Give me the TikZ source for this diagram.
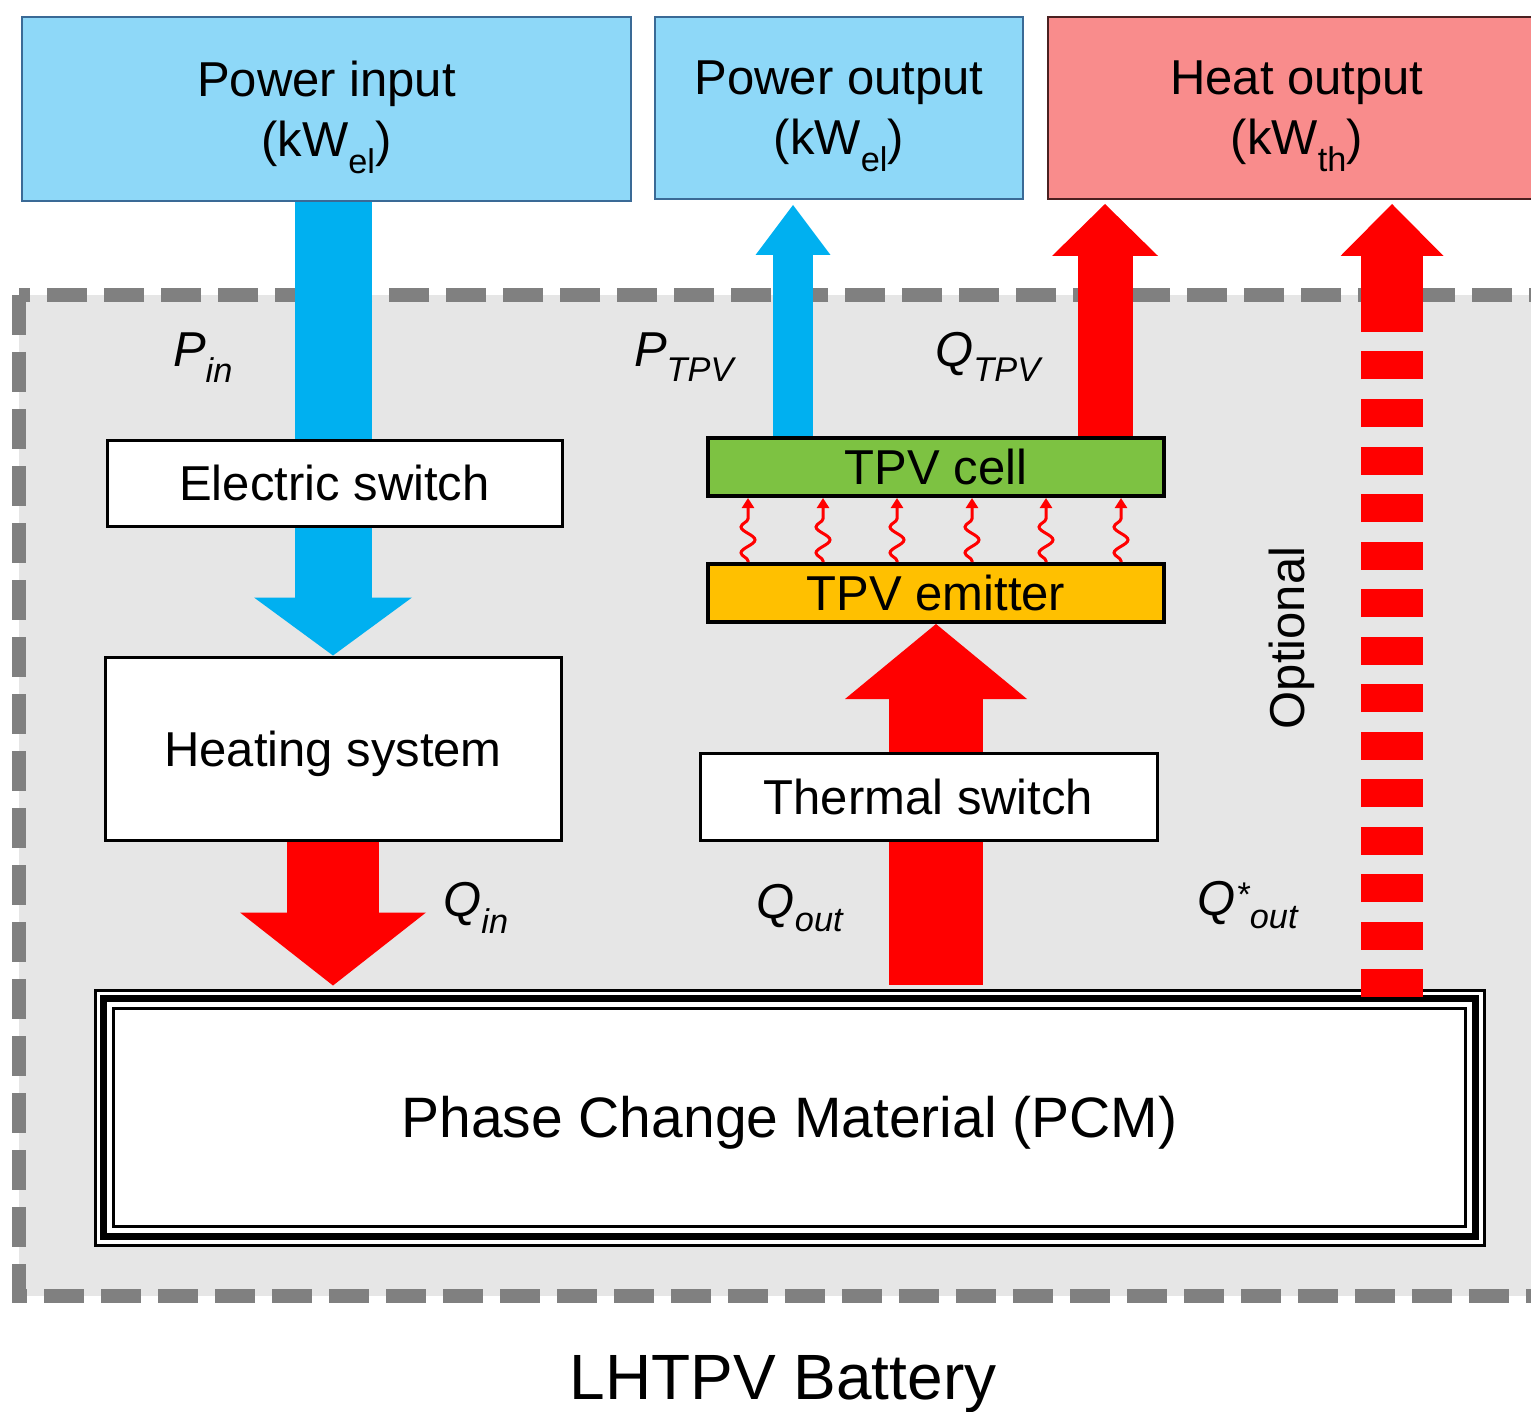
\documentclass[tikz,border=0pt]{standalone}
\usepackage{fontspec}
\setmainfont{Liberation Sans}
\usepackage{tikz}
\usetikzlibrary{arrows.meta,
	decorations.pathmorphing,
	calc}
\definecolor{elbox}{HTML}{8ED8F8}
\definecolor{elline}{HTML}{3A6A96}
\definecolor{thbox}{HTML}{F98C8C}
\definecolor{thline}{HTML}{4A2020}
\definecolor{elflow}{HTML}{00B0F0}
\definecolor{thflow}{HTML}{FF0000}
\definecolor{cellg}{HTML}{7DC242}
\definecolor{emito}{HTML}{FFC000}
\definecolor{regbg}{HTML}{E6E6E6}
\definecolor{regline}{HTML}{808080}
\pgfdeclarelayer{bg}
\pgfdeclarelayer{flow}
\pgfsetlayers{bg,flow,main}
\tikzstyle{txt}=[font=\fontsize{49}{60}\selectfont, inner sep=0]
\tikzstyle{box}=[txt, draw=black, line width=3pt, fill=white, text depth=-3pt]
\tikzstyle{top}=[txt, line width=2pt, align=center, text depth=-9pt]
\tikzstyle{lbl}=[txt, font=\fontsize{49}{60}\selectfont\itshape]
\tikzstyle{elf}=[elflow]
\tikzstyle{thf}=[thflow]
\tikzstyle{wave}=[thflow, line width=3pt, decorate,
		decoration={snake, amplitude=7pt, segment length=26pt, pre length=1pt, post length=10pt},
		-{Triangle[width=12pt, length=10pt]}]

\begin{document}
\begin{tikzpicture}[x=1pt, y=-1pt]
    \useasboundingbox (0,0) rectangle (1531,1412);
    \clip (0,0) rectangle (1531,1412);
    % battery region
    \begin{pgfonlayer}{bg}
        \draw[regline, fill=regbg, line width=14pt, dash pattern=on 40pt off 17pt] (19,295) rectangle (1560,1296);
    \end{pgfonlayer}
    % outside boxes
    \node[top, fill=elbox, draw=elline, minimum width=609pt, minimum height=184pt] (pin) at (326.5,109) {Power input\\(kW\textsubscript{el})};
    \node[top, fill=elbox, draw=elline, minimum width=368pt, minimum height=182pt] (pout) at (839,108) {Power output\\(kW\textsubscript{el})};
    \node[top, fill=thbox, draw=thline, minimum width=498pt, minimum height=182pt] (hout) at (1297,108) {Heat output\\(kW\textsubscript{th})};
    % inside boxes
    \node[box, minimum width=455pt, minimum height=86pt] (esw) at (334.5,483) {Electric switch};
    \node[box, minimum width=456pt, minimum height=183pt] (heat) at (333,748.5) {Heating system};
    \node[box, fill=cellg, line width=4pt, minimum width=456pt, minimum height=58pt] (cell) at (936,467) {TPV cell};
    \node[box, fill=emito, line width=4pt, minimum width=456pt, minimum height=58pt] (emit) at (936,593) {TPV emitter};
    \node[box, minimum width=457pt, minimum height=87pt] (tsw) at (928.5,796.5) {Thermal switch};
    \node[box, font=\fontsize{57}{66}\selectfont, text depth=2pt, minimum width=1389pt, minimum height=255pt] (pcm) at (789.5,1117.5) {Phase Change Material (PCM)};
    \draw[line width=7pt] ($(pcm.north west)+(10,10)$) rectangle ($(pcm.south east)+(-10,-10)$);
    \draw[line width=3pt] ($(pcm.north west)+(20,20)$) rectangle ($(pcm.south east)+(-20,-20)$);
    % flows
    \coordinate (ptpvb) at (793,438);
    \coordinate (qtpvb) at (1105,438);
    \coordinate (optb) at (1392,997);
    \coordinate (optm) at (1392,330);
    \begin{pgfonlayer}{flow}
        \draw[elf, line width=77pt, -{Triangle[width=158pt, length=58pt, line width=0pt]}] (heat.north |- pin.south) -- (heat.north);
        \draw[thf, line width=92pt, -{Triangle[width=186pt, length=73pt, line width=0pt]}, shorten >=3pt] (heat.south) -- (heat.south |- pcm.north);
        \draw[thf, line width=94pt, -{Triangle[width=182pt, length=75pt, line width=0pt]}, shorten <=4pt] (emit.south |- pcm.north) -- (emit.south);
        \draw[elf, line width=40pt, -{Triangle[width=75pt, length=50pt, line width=0pt]}, shorten >=5pt] (ptpvb) -- (ptpvb |- pout.south);
        \draw[thf, line width=55pt, -{Triangle[width=106pt, length=52pt, line width=0pt]}, shorten >=4pt] (qtpvb) -- (qtpvb |- hout.south);
    \end{pgfonlayer}
    \draw[thf, line width=62pt, dash pattern=on 28pt off 19.5pt] (optb) -- (optm);
    \draw[thf, line width=62pt, -{Triangle[width=103pt, length=52pt, line width=0pt]}, shorten >=4pt] (optm) -- (optb |- hout.south);
    \foreach \wx in {748,823,897,972,1046,1121}
        \draw[wave] (\wx,0 |- emit.north) -- (\wx,0 |- cell.south);
    % labels
    \node[lbl] (pinl) at (203,358) {P\textsubscript{in}};
    \node[lbl] (ptpvl) at (684,357) {P\textsubscript{TPV}};
    \node[lbl] (qtpvl) at (988,357) {Q\textsubscript{TPV}};
    \node[lbl] (qinl) at (476,908) {Q\textsubscript{in}};
    \node[lbl] (qoutl) at (800,908) {Q\textsubscript{out}};
    \node[lbl] (qoutsl) at (1248,905) {Q\textsuperscript{*}\textsubscript{out}};
    \node[txt, rotate=90] (optl) at (1292,638) {Optional};
    \node[txt, font=\fontsize{64}{72}\selectfont, text depth=1pt] (title) at (783,1378) {LHTPV Battery};
\end{tikzpicture}
\end{document}
